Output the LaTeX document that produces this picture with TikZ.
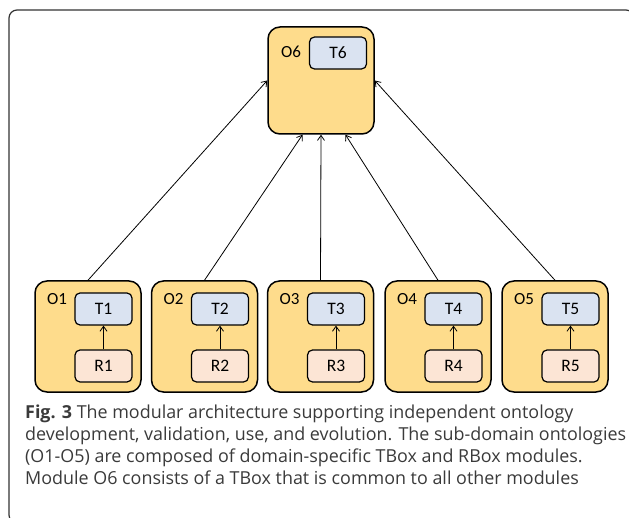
\documentclass[tikz,border=0pt]{standalone}
\usepackage{fontspec}
\setmainfont{Open Sans}
\newfontfamily\boxfont{Carlito}
\usetikzlibrary{arrows.meta,calc}
\definecolor{modfill}{HTML}{FEDC8C}
\definecolor{tfill}{HTML}{DAE3F1}
\definecolor{rfill}{HTML}{FCE5D5}
\definecolor{captext}{HTML}{3A3A3A}
\definecolor{framecol}{HTML}{333333}

\begin{document}
\begin{tikzpicture}[x=1pt,y=-1pt,
  module/.style={draw=black, line width=1.5pt, fill=modfill, rounded corners=12pt,
    minimum width=106pt, minimum height=111pt, inner sep=0pt},
  tbox/.style={draw=black, line width=1.2pt, fill=tfill, rounded corners=5pt,
    minimum width=57pt, minimum height=32pt, inner sep=0pt,
    font=\boxfont\fontsize{17.5}{17.5}\selectfont},
  rbox/.style={tbox, fill=rfill},
  modlabel/.style={font=\boxfont\fontsize{17}{17}\selectfont, inner sep=0pt},
  link/.style={line width=0.8pt, -{Straight Barb[length=5pt,width=7pt]}},
  captionline/.style={anchor=base west, inner sep=0pt, text=captext,
    font=\fontsize{17.9}{22}\selectfont}]

\useasboundingbox (0,0) rectangle (629,518);

% outer frame, partly cut by the page edge
\begin{scope}
  \clip (0,0) rectangle (629,518);
  \draw[framecol, line width=1.2pt, rounded corners=8pt] (9,10) rectangle (634,523);
\end{scope}

% common module O6
\node[module, minimum height=107pt] (O6) at (321,80.5) {};
\node[modlabel] (L6) at (291,52) {O6};
\node[tbox] (T6) at (338,53) {T6};

% sub-domain modules O1-O5
\foreach \i/\x in {1/88,2/204.5,3/320.5,4/438,5/555}{
  \node[module] (O\i) at (\x,336.5) {};
  \node[modlabel] (L\i) at ($(\x,299)+(-31,0)$) {O\i};
  \node[tbox] (T\i) at ($(\x,309)+(15.5,0)$) {T\i};
  \node[rbox] (R\i) at ($(\x,366)+(15.5,0)$) {R\i};
  \draw[link] (R\i) -- (T\i);
}

% links to the common module
\draw[link] (O1.north) -- (O6.west);
\draw[link] (O2.north) -- ($(O6.south)+(-18.5,0)$);
\draw[link] (O3.north) -- (O6.south);
\draw[link] (O4.north) -- ($(O6.south)+(24.5,0)$);
\draw[link] (O5.north) -- (O6.east);

% caption
\node[captionline] (cap1) at (25,418) {\textbf{Fig. 3} The modular architecture supporting independent ontology};
\node[captionline] (cap2) at (25,440) {development, validation, use, and evolution. The sub-domain ontologies};
\node[captionline] (cap3) at (25,462) {(O1-O5) are composed of domain-specific TBox and RBox modules.};
\node[captionline] (cap4) at (25,484) {Module O6 consists of a TBox that is common to all other modules};
\end{tikzpicture}
\end{document}
